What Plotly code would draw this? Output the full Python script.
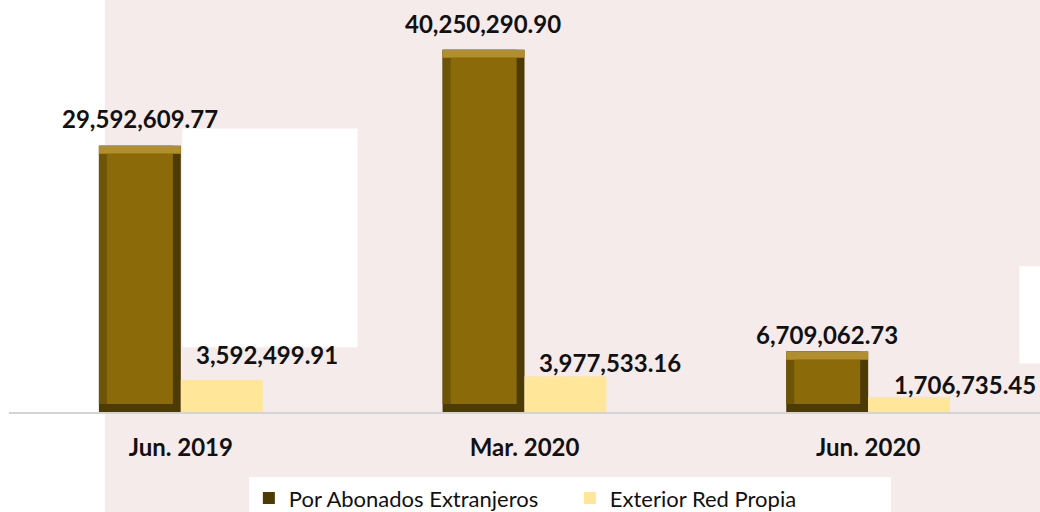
import plotly.graph_objects as go

categories = ["Jun. 2019", "Mar. 2020", "Jun. 2020"]
abonados = [29592609.77, 40250290.90, 6709062.73]
exterior = [3592499.91, 3977533.16, 1706735.45]
abonados_labels = ["29,592,609.77", "40,250,290.90", "6,709,062.73"]
exterior_labels = ["3,592,499.91", "3,977,533.16", "1,706,735.45"]

# styling / label placement (pixels)
ab_label_yshift = [27, 26, 17]
ex_label_xshift = [45, 44, 56]
ex_label_yshift = [25, 14, 12]

BW = 0.2384          # bar width in category units
BEV = 0.0233         # bevel width in category units
BEV_Y = 0.9e6        # bevel height in value units

BROWN = "#8b6a0a"
YELLOW = "#ffe699"
FONT = "Lato"

fig = go.Figure()

# outer dark frame (right / bottom bevel)
fig.add_trace(go.Bar(x=categories, y=abonados, width=BW, offset=-BW,
                     marker=dict(color="#4d3b05", line=dict(width=0)),
                     name="Por Abonados Extranjeros", legendrank=1,
                     showlegend=True, hoverinfo="skip"))
# left bevel
fig.add_trace(go.Bar(x=categories, y=[v - BEV_Y for v in abonados], base=BEV_Y,
                     width=BW - BEV, offset=-BW,
                     marker=dict(color="#6e5407", line=dict(width=0)),
                     showlegend=False, hoverinfo="skip"))
# top bevel
fig.add_trace(go.Bar(x=categories, y=[BEV_Y] * len(abonados),
                     base=[v - BEV_Y for v in abonados],
                     width=BW, offset=-BW,
                     marker=dict(color="#b08f2c", line=dict(width=0)),
                     showlegend=False, hoverinfo="skip"))
# inner face
fig.add_trace(go.Bar(x=categories, y=[v - 2 * BEV_Y for v in abonados], base=BEV_Y,
                     width=BW - 2 * BEV, offset=-BW + BEV,
                     marker=dict(color=BROWN, line=dict(width=0)),
                     showlegend=False))
# yellow series
fig.add_trace(go.Bar(x=categories, y=exterior, width=BW, offset=0,
                     marker=dict(color=YELLOW, line=dict(width=0)),
                     name="Exterior Red Propia", legendrank=2))

for c, v, t, ys in zip(categories, abonados, abonados_labels, ab_label_yshift):
    fig.add_annotation(x=c, y=v, text=t, showarrow=False, xshift=-BW / 2 * 344,
                       yshift=ys, yanchor="middle", xanchor="center",
                       font=dict(family=FONT, size=24, color="#111111", weight="bold"))
for c, v, t, xs, ys in zip(categories, exterior, exterior_labels, ex_label_xshift, ex_label_yshift):
    fig.add_annotation(x=c, y=v, text=t, showarrow=False, xshift=BW / 2 * 344 + xs,
                       yshift=ys, yanchor="middle", xanchor="center",
                       font=dict(family=FONT, size=24, color="#111111", weight="bold"))

# background patches (white areas in the original image)
shapes = [
    dict(type="rect", xref="paper", yref="paper", x0=-0.01, x1=0.093, y0=-0.3, y1=1.1),
    dict(type="rect", xref="paper", yref="paper", x0=0.168, x1=0.338, y0=0.16, y1=0.70),
    dict(type="rect", xref="paper", yref="paper", x0=0.98, x1=1.01, y0=0.12, y1=0.36),
]
for s in shapes:
    s.update(fillcolor="white", line=dict(width=0), layer="below")

fig.update_layout(
    width=1040, height=512,
    margin=dict(l=9, r=0, t=7, b=100, autoexpand=False),
    paper_bgcolor="#f6ebeb",
    plot_bgcolor="rgba(0,0,0,0)",
    barmode="overlay",
    shapes=shapes,
    showlegend=True,
    legend=dict(orientation="h", x=0.544, xanchor="center",
                yref="container", y=0.027, yanchor="middle",
                bgcolor="white", font=dict(family=FONT, size=22, color="#111111"),
                itemwidth=30, entrywidth=276, traceorder="normal"),
    font=dict(family=FONT),
    xaxis=dict(showline=True, linecolor="#d4d4d4", linewidth=1.5, ticks="",
               ticklabelstandoff=13, automargin=False,
               tickfont=dict(family=FONT, size=24, color="#111111", weight="bold"),
               showgrid=False, fixedrange=True),
    yaxis=dict(range=[0, 45e6], visible=False, showgrid=False, zeroline=False,
               automargin=False, fixedrange=True),
)

fig.write_html("out.html", config={"displayModeBar": False},
               post_script="document.body.style.margin='0';document.body.style.overflow='hidden';")
